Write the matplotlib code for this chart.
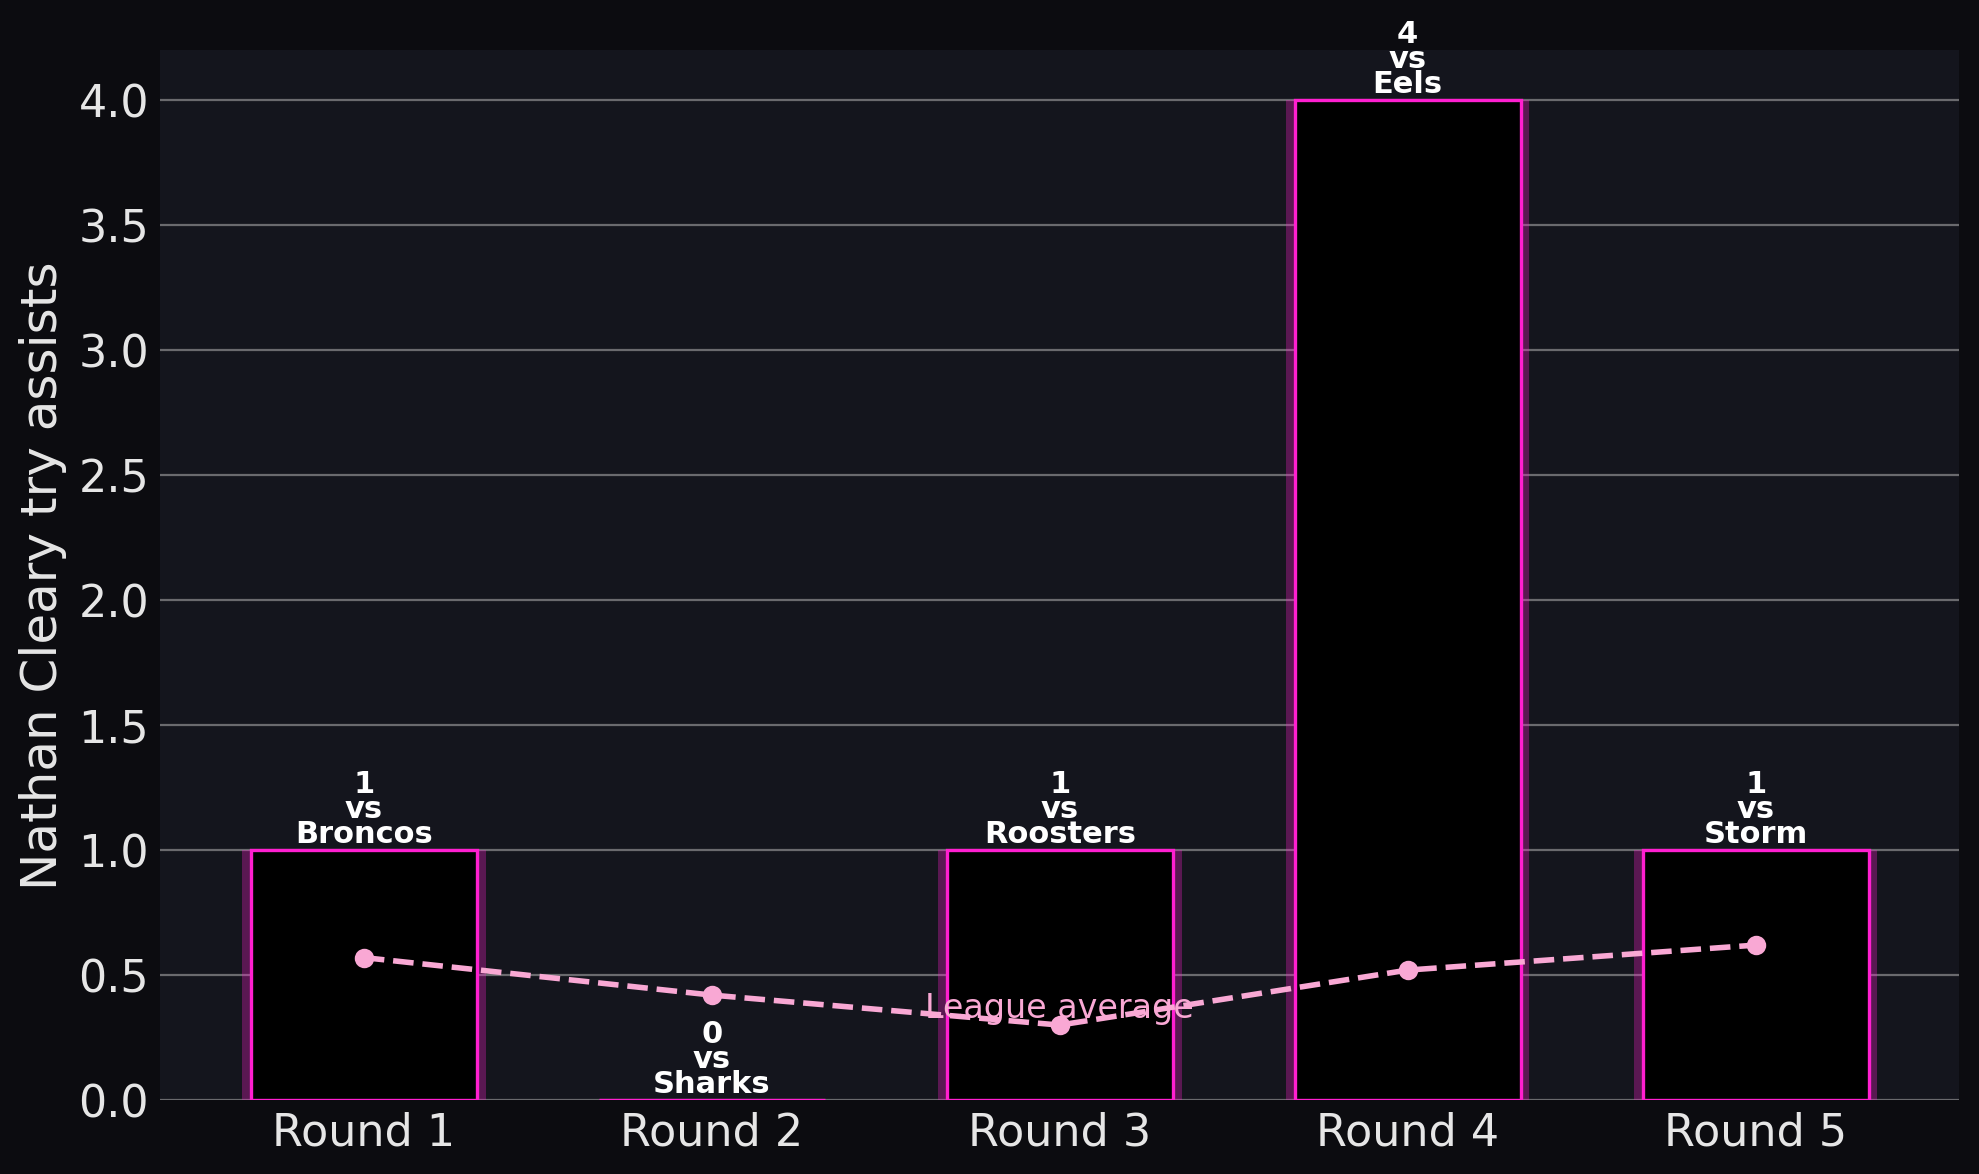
import numpy as np
import matplotlib.pyplot as plt

# data
rounds = ['Round 1', 'Round 2', 'Round 3', 'Round 4', 'Round 5']
opponents = ['Broncos', 'Sharks', 'Roosters', 'Eels', 'Storm']
assists = [1, 0, 1, 4, 1]
league_avg = [0.57, 0.42, 0.30, 0.52, 0.62]

# colours
fig_bg = '#0c0c10'
ax_bg = '#14151d'
neon = '#ff1fd0'
pink = '#f9a8d4'
text_col = '#e6e6e6'

fig = plt.figure(figsize=(9.895, 5.87), dpi=200, facecolor=fig_bg)
ax = fig.add_axes([0.081, 0.063, 0.909, 0.894])
ax.set_facecolor(ax_bg)

x = np.arange(len(rounds))

# glow behind the bars, then the bars themselves
ax.bar(x, assists, width=0.7, color=neon, alpha=0.3, linewidth=0, zorder=2)
ax.bar(x, assists, width=0.65, color='black', edgecolor=neon, linewidth=1.2, zorder=3)

# league average line
ax.plot(x, league_avg, '--', color=pink, linewidth=2, marker='o', markersize=6, zorder=4)
ax.text(x[2], league_avg[2] + 0.0, 'League average', color=pink, fontsize=12,
        ha='center', va='bottom', zorder=5)

# labels on top of bars
for xi, v, opp in zip(x, assists, opponents):
    ax.text(xi, v + 0.005, f'{v}\nvs\n{opp}', color='white', fontsize=11,
            fontweight='bold', ha='center', va='bottom', linespacing=0.82, zorder=5)

ax.set_xticks(x)
ax.set_xticklabels(rounds)
ax.set_ylabel('Nathan Cleary try assists', fontsize=18, color=text_col)
ax.tick_params(axis='both', length=0, labelsize=16, labelcolor=text_col, pad=4)
ax.yaxis.grid(True, color='#6a6a6e', linewidth=0.8, zorder=0)
ax.set_axisbelow(True)
for s in ax.spines.values():
    s.set_visible(False)

fig.savefig('out.png', dpi=200, facecolor=fig_bg)
